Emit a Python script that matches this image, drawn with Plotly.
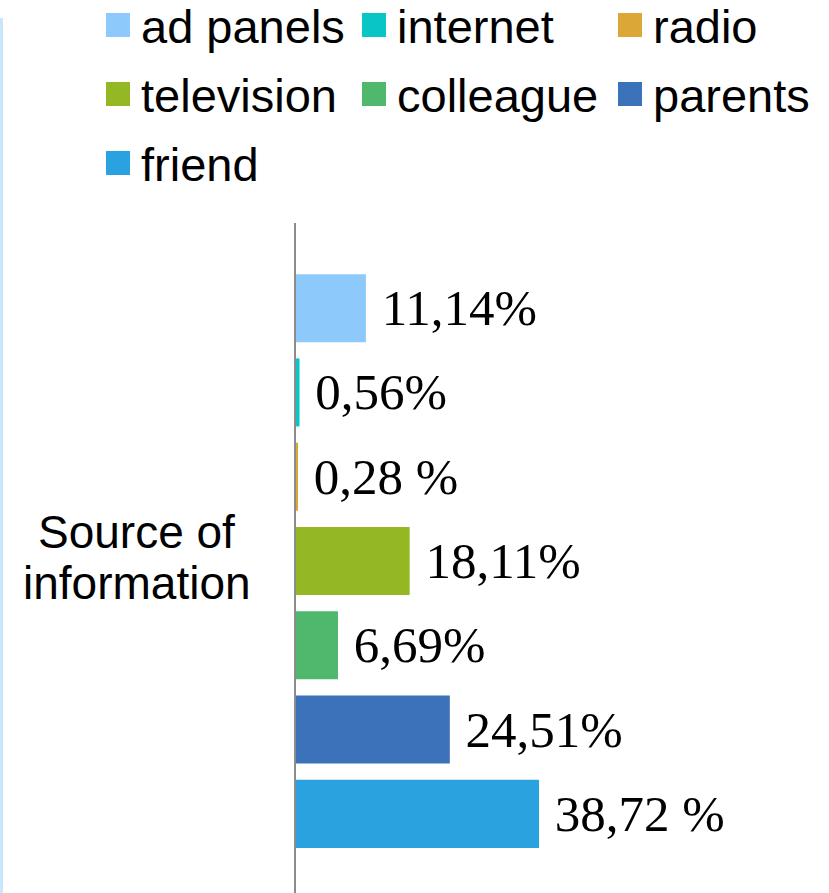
import plotly.graph_objects as go

# Survey: where respondents heard about it (share of answers, %)
category = "Source of information"
sources = ["ad panels", "internet", "radio", "television", "colleague", "parents", "friend"]
shares = [11.14, 0.56, 0.28, 18.11, 6.69, 24.51, 38.72]
share_labels = ["11,14%", "0,56%", "0,28 %", "18,11%", "6,69%", "24,51%", "38,72 %"]
colors = ["#8DC9FB", "#07C6C3", "#DBA837", "#94B824", "#50B86C", "#3B72B9", "#2BA2E0"]

W, H = 829, 893
M_L, M_R, M_T, M_B = 296, 0, 223, 0
PX_PER_UNIT = 6.276  # horizontal scale, pixels per percentage point
PLOT_W = W - M_L - M_R
PLOT_H = H - M_T - M_B


def px(x):
    return (x - M_L) / PLOT_W


def py(y):
    return (H - M_B - y) / PLOT_H


SANS = "Liberation Sans, Arial, sans-serif"
SERIF = "Liberation Serif, Times New Roman, serif"
PAD = "\u00a0"

fig = go.Figure()
for name, val, lab, col in zip(sources, shares, share_labels, colors):
    fig.add_trace(go.Bar(
        y=[category], x=[val], name=name, orientation="h",
        marker=dict(color=col, line=dict(width=0)),
        text=[PAD + lab], textposition="outside",
        textfont=dict(family=SERIF, size=51, color="#000000"),
        constraintext="none", cliponaxis=False, showlegend=False,
    ))

# legend: three columns of colour squares with names
col_x = [106, 362, 618]
row_y = [25, 94, 163]
SQ = 24
for i, (name, col) in enumerate(zip(sources, colors)):
    cx = col_x[i % 3]
    cy = row_y[i // 3]
    fig.add_shape(type="rect", xref="paper", yref="paper",
                  x0=px(cx), x1=px(cx + SQ), y0=py(cy + SQ / 2), y1=py(cy - SQ / 2),
                  fillcolor=col, line=dict(width=0))
    fig.add_annotation(xref="paper", yref="paper", x=px(cx + 33), y=py(cy + 1),
                       xanchor="left", yanchor="middle", showarrow=False,
                       text=name, font=dict(family=SANS, size=47, color="#000000"))

# category caption, centred two-line text
for txt, yc in [("Source of", 532), ("information", 583)]:
    fig.add_annotation(xref="paper", yref="paper", x=px(136.5), y=py(yc),
                       xanchor="center", yanchor="middle", showarrow=False,
                       text=txt, font=dict(family=SANS, size=46, color="#000000"))

# light blue frame edge on the left
fig.add_shape(type="line", xref="paper", yref="paper",
              x0=px(1.5), x1=px(1.5), y0=py(18), y1=py(H + 5),
              line=dict(color="#C9E7FB", width=3))

fig.update_layout(
    width=W, height=H,
    margin=dict(l=M_L, r=M_R, t=M_T, b=M_B, pad=0),
    paper_bgcolor="white", plot_bgcolor="white",
    barmode="group", bargap=0.1272, bargroupgap=0.193,
    showlegend=False,
    font=dict(family=SANS, color="#000000"),
    xaxis=dict(visible=False, range=[0, PLOT_W / PX_PER_UNIT], fixedrange=True),
    yaxis=dict(type="category", range=[0.4911, -0.5], showline=True,
               linecolor="#8C8C8C", linewidth=2, showticklabels=False,
               ticks="", showgrid=False, zeroline=False, fixedrange=True),
)

fig.write_html("out.html")
